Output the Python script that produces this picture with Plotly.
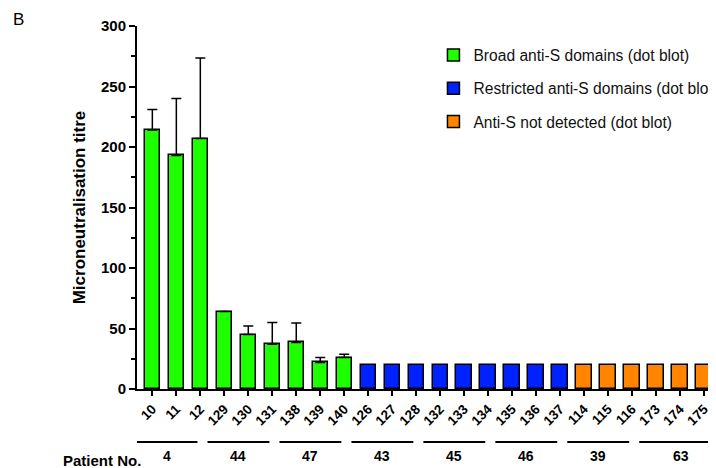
import plotly.graph_objects as go

# ---- data ----
sample_labels = ["10", "11", "12", "129", "130", "131", "138", "139", "140",
                 "126", "127", "128", "132", "133", "134", "135", "136", "137",
                 "114", "115", "116", "173", "174", "175"]
titre_values = [214, 193, 207, 64, 45, 37, 38.5, 22, 26,
                20, 20, 20, 20, 20, 20, 20, 20, 20,
                20, 20, 20, 20, 20, 20]
error_top = [231, 240, 273.5, None, 52, 55, 54.5, 26, 28.7,
             None, None, None, None, None, None, None, None, None,
             None, None, None, None, None, None]
dot_blot_class = ["Broad"] * 9 + ["Restricted"] * 9 + ["None"] * 6
class_names = {"Broad": "Broad anti-S domains (dot blot)",
               "Restricted": "Restricted anti-S domains (dot blot)",
               "None": "Anti-S not detected (dot blot)"}
class_colors = {"Broad": "#1eff00", "Restricted": "#0022ff", "None": "#ff8500"}
patient_ids = ["4", "44", "47", "43", "45", "46", "39", "63"]
patient_sizes = [3, 3, 3, 3, 3, 3, 3, 3]
y_ticks = [0, 50, 100, 150, 200, 250, 300]

FONT = "Liberation Sans, Arial, sans-serif"
X_RANGE = [-0.64, 23.5]

fig = go.Figure()
for key in ["Broad", "Restricted", "None"]:
    idx = [i for i, c in enumerate(dot_blot_class) if c == key]
    xs = idx
    ys = [titre_values[i] for i in idx]
    plus = [(error_top[i] - titre_values[i]) if error_top[i] is not None else None for i in idx]
    has_err = any(p is not None for p in plus)
    fig.add_trace(go.Bar(
        x=xs, y=ys, name=class_names[key], legendgroup=key,
        width=0.64,
        marker=dict(color=class_colors[key], line=dict(color="black", width=1.5)),
        error_y=dict(type="data", symmetric=False, array=plus,
                     arrayminus=[0 if p is not None else None for p in plus],
                     color="black", thickness=1.5, width=5, visible=has_err),
    ))

shapes = []
annotations = []
start = 0
for gi, (pid, n) in enumerate(zip(patient_ids, patient_sizes)):
    s, e = start, start + n - 1
    x0 = s - 0.7
    last = gi == len(patient_ids) - 1
    x1 = e - 0.12 if not last else X_RANGE[1] + 0.5
    shapes.append(dict(type="line", xref="x", yref="paper", x0=x0, x1=x1,
                       y0=-0.146, y1=-0.146, line=dict(color="black", width=2)))
    xm = (x0 + (e - 0.12)) / 2 if not last else (s - 0.7 + e + 0.8) / 2
    annotations.append(dict(x=xm, y=-0.1846, xref="x", yref="paper", text=pid,
                            xanchor="center", yanchor="middle",
                            showarrow=False, font=dict(family=FONT, size=14, color="black", weight="bold")))
    start += n

annotations.append(dict(x=-0.0604, y=-0.1956, xref="paper", yref="paper", text="Patient No.",
                        xanchor="center", yanchor="middle",
                        showarrow=False, font=dict(family=FONT, size=15, color="black", weight="bold")))
annotations.append(dict(x=-0.205, y=1.018, xref="paper", yref="paper", text="B",
                        xanchor="center", yanchor="middle",
                        showarrow=False, font=dict(family=FONT, size=17, color="black")))

# page body has an 8px margin, so the figure is 8px smaller and offsets compensate
fig.update_layout(
    width=708, height=460,
    margin=dict(l=129, r=0, t=18, b=79, autoexpand=False),
    plot_bgcolor="white", paper_bgcolor="white",
    bargap=0,
    showlegend=True,
    legend=dict(x=0.512, y=0.966, xanchor="left", yanchor="top",
                font=dict(family=FONT, size=15.6, color="#111"),
                tracegroupgap=10, bgcolor="rgba(0,0,0,0)"),
    shapes=shapes, annotations=annotations,
    xaxis=dict(range=X_RANGE, tickmode="array", tickvals=list(range(len(sample_labels))),
               ticktext=sample_labels, tickangle=-45, automargin=False,
               tickfont=dict(family=FONT, size=13.5, color="black", weight="bold"),
               ticks="outside", ticklen=5, tickwidth=1.5, tickcolor="black",
               showline=True, linecolor="black", linewidth=2, showgrid=False, zeroline=False),
    yaxis=dict(range=[0, 300], tickmode="array", tickvals=y_ticks, automargin=False,
               tickfont=dict(family=FONT, size=15, color="black", weight="bold"),
               ticks="outside", ticklen=6, tickwidth=1.5, tickcolor="black",
               minor=dict(ticks="outside", ticklen=4, tickwidth=1.5, tickcolor="black", dtick=25, showgrid=False),
               showline=True, linecolor="black", linewidth=2, showgrid=False, zeroline=False,
               title=dict(text="Microneutralisation titre", standoff=11,
                          font=dict(family=FONT, size=17, color="black", weight="bold"))),
)

fig.write_html("out.html")
